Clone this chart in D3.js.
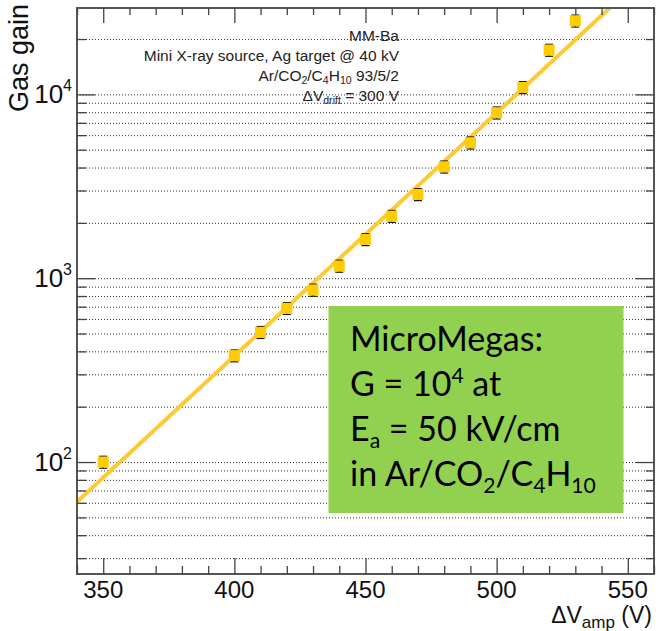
<!DOCTYPE html>
<html lang="en">
<head>
    <meta charset="UTF-8">
    <title>Gas gain vs amplification voltage</title>
    <script src="https://d3js.org/d3.v7.min.js"></script>
    <style>
        body { margin: 0; background: #fff; }
        svg { display: block; font-family: "Liberation Sans", Arial, sans-serif; }
        .grid line { stroke: #333; stroke-dasharray: 1,2; }
        .grid path { display: none; }
    </style>
</head>
<body>
    <svg id="chart" width="656" height="631"></svg>

    <script>
        // amplification voltage (V) and measured gas gain
        const voltages = [350, 400, 410, 420, 430, 440, 450, 460, 470, 480, 490, 500, 510, 520, 530];
        const gains = [100, 379, 508, 686, 863, 1165, 1626, 2176, 2857, 4036, 5455, 7943, 10916, 17420, 25120];
        const gainErrors = [7.5, 28, 38, 51, 65, 87, 122, 163, 214, 303, 409, 596, 819, 1306, 1884];

        // exponential fit: G = exp(p0 + p1 * V)
        const fitP0 = -6.25;
        const fitP1 = 0.03046;

        const xMajor = [350, 400, 450, 500, 550];
        const xMinor = [340, 360, 370, 380, 390, 410, 420, 430, 440, 460, 470, 480, 490, 510, 520, 530, 540, 560];
        const yMajor = [100, 1000, 10000];
        const yMinor = [30, 40, 50, 60, 70, 80, 90, 200, 300, 400, 500, 600, 700, 800, 900,
                        2000, 3000, 4000, 5000, 6000, 7000, 8000, 9000, 20000];

        const infoLines = [
            [["MM-Ba", ""]],
            [["Mini X-ray source, Ag target @ 40 kV", ""]],
            [["Ar/CO", ""], ["2", "sub"], ["/C", ""], ["4", "sub"], ["H", ""], ["10", "sub"], [" 93/5/2", ""]],
            [["\u0394V", ""], ["drift", "sub"], [" = 300 V", ""]]
        ];
        const boxLines = [
            [["MicroMegas:", ""]],
            [["G = 10", ""], ["4", "sup"], [" at", ""]],
            [["E", ""], ["a", "sub"], [" = 50 kV/cm", ""]],
            [["in Ar/CO", ""], ["2", "sub"], ["/C", ""], ["4", "sub"], ["H", ""], ["10", "sub"]]
        ];

        const margin = { top: 8, right: 2, bottom: 57, left: 77 };
        const W = 656, H = 631;
        const width = W - margin.left - margin.right;
        const height = H - margin.top - margin.bottom;

        const svg = d3.select("#chart");
        const g = svg.append("g").attr("transform", `translate(${margin.left},${margin.top})`);

        const x = d3.scaleLinear().domain([340, 560]).range([0, width]);
        const y = d3.scaleLog().domain([24.6, 29500]).range([height, 0]);

        // dotted horizontal grid
        g.append("g").attr("class", "grid")
            .call(d3.axisLeft(y).tickValues(yMajor.concat(yMinor)).tickSize(-width).tickFormat(""));

        // multi-part text lines with sub/superscripts
        function addLines(sel, lines, opts) {
            const r = opts.ratio || 0.68;
            lines.forEach((parts, i) => {
                const t = sel.append("text")
                    .attr("x", opts.x)
                    .attr("y", opts.y0 + i * opts.dy)
                    .attr("text-anchor", opts.anchor)
                    .attr("font-size", opts.size)
                    .attr("font-family", opts.family)
                    .attr("fill", opts.color);
                let shift = 0;
                parts.forEach(([txt, kind]) => {
                    let target = 0;
                    const ts = t.append("tspan").text(txt);
                    if (kind === "sub") {
                        ts.attr("font-size", opts.size * r);
                        target = opts.size * 0.22;
                    } else if (kind === "sup") {
                        ts.attr("font-size", opts.size * r);
                        target = -opts.size * 0.38;
                    }
                    ts.attr("dy", target - shift);
                    shift = target;
                });
            });
        }

        addLines(svg, infoLines, {
            x: 399, y0: 41, dy: 20, anchor: "end", size: 15.5,
            family: "'Liberation Sans', Arial, sans-serif", color: "#222"
        });

        // fit line
        svg.append("clipPath").attr("id", "plotclip")
            .append("rect").attr("width", width).attr("height", height);

        const fitV = d3.range(340, 560.1, 2);
        g.append("path")
            .datum(fitV)
            .attr("clip-path", "url(#plotclip)")
            .attr("fill", "none")
            .attr("stroke", "#ffc933")
            .attr("stroke-width", 4)
            .attr("d", d3.line().x(v => x(v)).y(v => y(Math.exp(fitP0 + fitP1 * v))));

        // error bars
        const pts = voltages.map((v, i) => ({ v, gain: gains[i], err: gainErrors[i] }));
        const eb = g.append("g").attr("stroke", "#111").attr("stroke-width", 1.2);
        eb.selectAll("line.bar").data(pts).enter().append("line")
            .attr("x1", d => x(d.v)).attr("x2", d => x(d.v))
            .attr("y1", d => y(d.gain - d.err)).attr("y2", d => y(d.gain + d.err));
        eb.selectAll("line.cap-hi").data(pts).enter().append("line")
            .attr("x1", d => x(d.v) - 4).attr("x2", d => x(d.v) + 4)
            .attr("y1", d => y(d.gain + d.err)).attr("y2", d => y(d.gain + d.err));
        eb.selectAll("line.cap-lo").data(pts).enter().append("line")
            .attr("x1", d => x(d.v) - 4).attr("x2", d => x(d.v) + 4)
            .attr("y1", d => y(d.gain - d.err)).attr("y2", d => y(d.gain - d.err));

        // markers
        const ms = 11;
        g.selectAll("rect.marker").data(pts).enter().append("rect")
            .attr("class", "marker")
            .attr("x", d => x(d.v) - ms / 2)
            .attr("y", d => y(d.gain) - ms / 2)
            .attr("width", ms).attr("height", ms)
            .attr("fill", "#ffcc00");

        // frame and ticks (ROOT style, mirrored)
        const frame = g.append("g");
        frame.append("rect").attr("width", width).attr("height", height)
            .attr("fill", "none").attr("stroke", "#555").attr("stroke-width", 2);

        function tickAxis(axis, transform, size, values) {
            const a = frame.append("g").attr("transform", transform)
                .call(axis.tickValues(values).tickSize(size).tickFormat(""));
            a.select(".domain").remove();
            a.selectAll("line").attr("stroke", "#444").attr("stroke-width", 1.3);
        }
        tickAxis(d3.axisBottom(x), `translate(0,${height})`, -16, xMajor);
        tickAxis(d3.axisBottom(x), `translate(0,${height})`, -8, xMinor);
        tickAxis(d3.axisTop(x), "translate(0,0)", -15, xMajor);
        tickAxis(d3.axisTop(x), "translate(0,0)", -7, xMinor);
        tickAxis(d3.axisLeft(y), "translate(0,0)", -18, yMajor);
        tickAxis(d3.axisLeft(y), "translate(0,0)", -9, yMinor);
        tickAxis(d3.axisRight(y), `translate(${width},0)`, -18, yMajor);
        tickAxis(d3.axisRight(y), `translate(${width},0)`, -8, yMinor);

        // x tick labels
        g.selectAll("text.xlab").data(xMajor).enter().append("text")
            .attr("x", d => x(d))
            .attr("y", height + 24)
            .attr("text-anchor", "middle")
            .attr("font-size", 24)
            .attr("fill", "#111")
            .text(d => d);

        // y tick labels 10^n
        yMajor.forEach(v => {
            const t = g.append("text")
                .attr("x", -5)
                .attr("y", y(v) + 9)
                .attr("text-anchor", "end")
                .attr("font-size", 26)
                .attr("fill", "#111");
            t.append("tspan").text("10");
            t.append("tspan").attr("font-size", 16).attr("dy", -12).text(Math.round(Math.log10(v)));
        });

        // axis titles
        svg.append("text")
            .attr("transform", "translate(28,4) rotate(-90)")
            .attr("text-anchor", "end")
            .attr("font-size", 27)
            .attr("fill", "#111")
            .text("Gas gain");

        const xt = svg.append("text")
            .attr("x", 652)
            .attr("y", 623)
            .attr("text-anchor", "end")
            .attr("font-size", 23)
            .attr("fill", "#111");
        xt.append("tspan").text("\u0394V");
        xt.append("tspan").attr("font-size", 17).attr("dy", 5).text("amp");
        xt.append("tspan").attr("dy", -5).text(" (V)");

        // green annotation box
        svg.append("rect")
            .attr("x", 328.5).attr("y", 306)
            .attr("width", 295).attr("height", 207)
            .attr("fill", "#92d050");

        addLines(svg, boxLines, {
            x: 350, y0: 351, dy: 45, anchor: "start", size: 34, ratio: 0.62,
            family: "Lato, 'Open Sans', sans-serif", color: "#000"
        });
    </script>
</body>
</html>
